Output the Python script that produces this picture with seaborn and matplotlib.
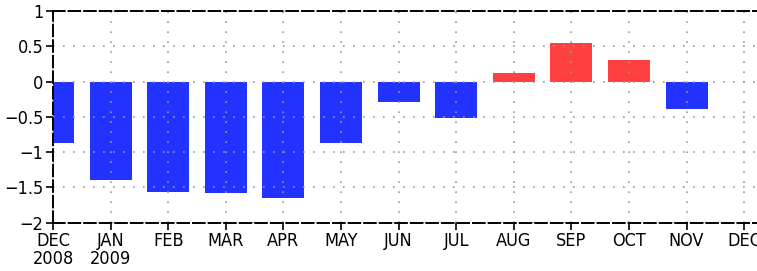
import matplotlib
matplotlib.use("Agg")
import matplotlib.pyplot as plt
import seaborn as sns
import pandas as pd
import numpy as np
from matplotlib import font_manager as fm

months = ["DEC", "JAN", "FEB", "MAR", "APR", "MAY", "JUN", "JUL", "AUG", "SEP", "OCT", "NOV"]
values = [-0.87, -1.39, -1.56, -1.58, -1.65, -0.87, -0.29, -0.52, 0.12, 0.55, 0.30, -0.39]
tick_labels = ["DEC\n2008", "JAN\n2009", "FEB", "MAR", "APR", "MAY", "JUN", "JUL",
               "AUG", "SEP", "OCT", "NOV", "DEC"]
y_ticks = [1, 0.5, 0, -0.5, -1, -1.5, -2]
y_tick_labels = ["1", "0.5", "0", "\u22120.5", "\u22121", "\u22121.5", "\u22122"]

sns.set_theme(style="white")
names = {f.name for f in fm.fontManager.ttflist}
cond = [f for f in fm.fontManager.ttflist if 'Condensed' in f.fname or 'Narrow' in f.fname]
print(sorted(names))
print([c.fname for c in cond])
fam = 'Liberation Sans Narrow' if 'Liberation Sans Narrow' in names else 'DejaVu Sans'
plt.rcParams['font.family'] = [fam, 'DejaVu Sans']
plt.rcParams['font.stretch'] = 'condensed'

df = pd.DataFrame({"month": range(len(months)), "value": values})
df["sign"] = np.where(df["value"] >= 0, "pos", "neg")

W, H = 757, 271
fig = plt.figure(figsize=(W / 100, H / 100), dpi=100)
left, right, top, bottom = 53, 757, 11, 222.7
ax = fig.add_axes([left / W, 1 - bottom / H, (right - left) / W, (bottom - top) / H])

sns.barplot(data=df, x="month", y="value", hue="sign",
            palette={"pos": "#ff4040", "neg": "#2233ff"}, saturation=1,
            width=0.73, dodge=False, legend=False, ax=ax, zorder=1,
            edgecolor="none", native_scale=True)

ax.set_xlim(0, (right - left) / 57.6)
ax.set_ylim(-2, 1)
ax.set_xticks(range(13))
ax.set_xticklabels(tick_labels, fontsize=13, linespacing=1.0)
ax.set_yticks(y_ticks)
ax.set_yticklabels(y_tick_labels, fontsize=13)
ax.set_xlabel("")
ax.set_ylabel("")

for v in range(13):
    ax.axvline(v, color="#999999", lw=1.2, ls=(0, (1, 5)), zorder=2)
for v in y_ticks:
    ax.axhline(v, color="#999999", lw=1.2, ls=(0, (1, 5)), zorder=2)

for s in ["top", "bottom", "left"]:
    ax.spines[s].set_linestyle((0, (6, 2)))
    ax.spines[s].set_linewidth(1.4)
    ax.spines[s].set_color("black")
ax.spines["right"].set_visible(False)

ax.tick_params(axis="both", direction="out", length=5, width=1.2, color="black",
               left=True, bottom=True, pad=2, labelcolor="black")

fig.savefig("out.png", dpi=100)
